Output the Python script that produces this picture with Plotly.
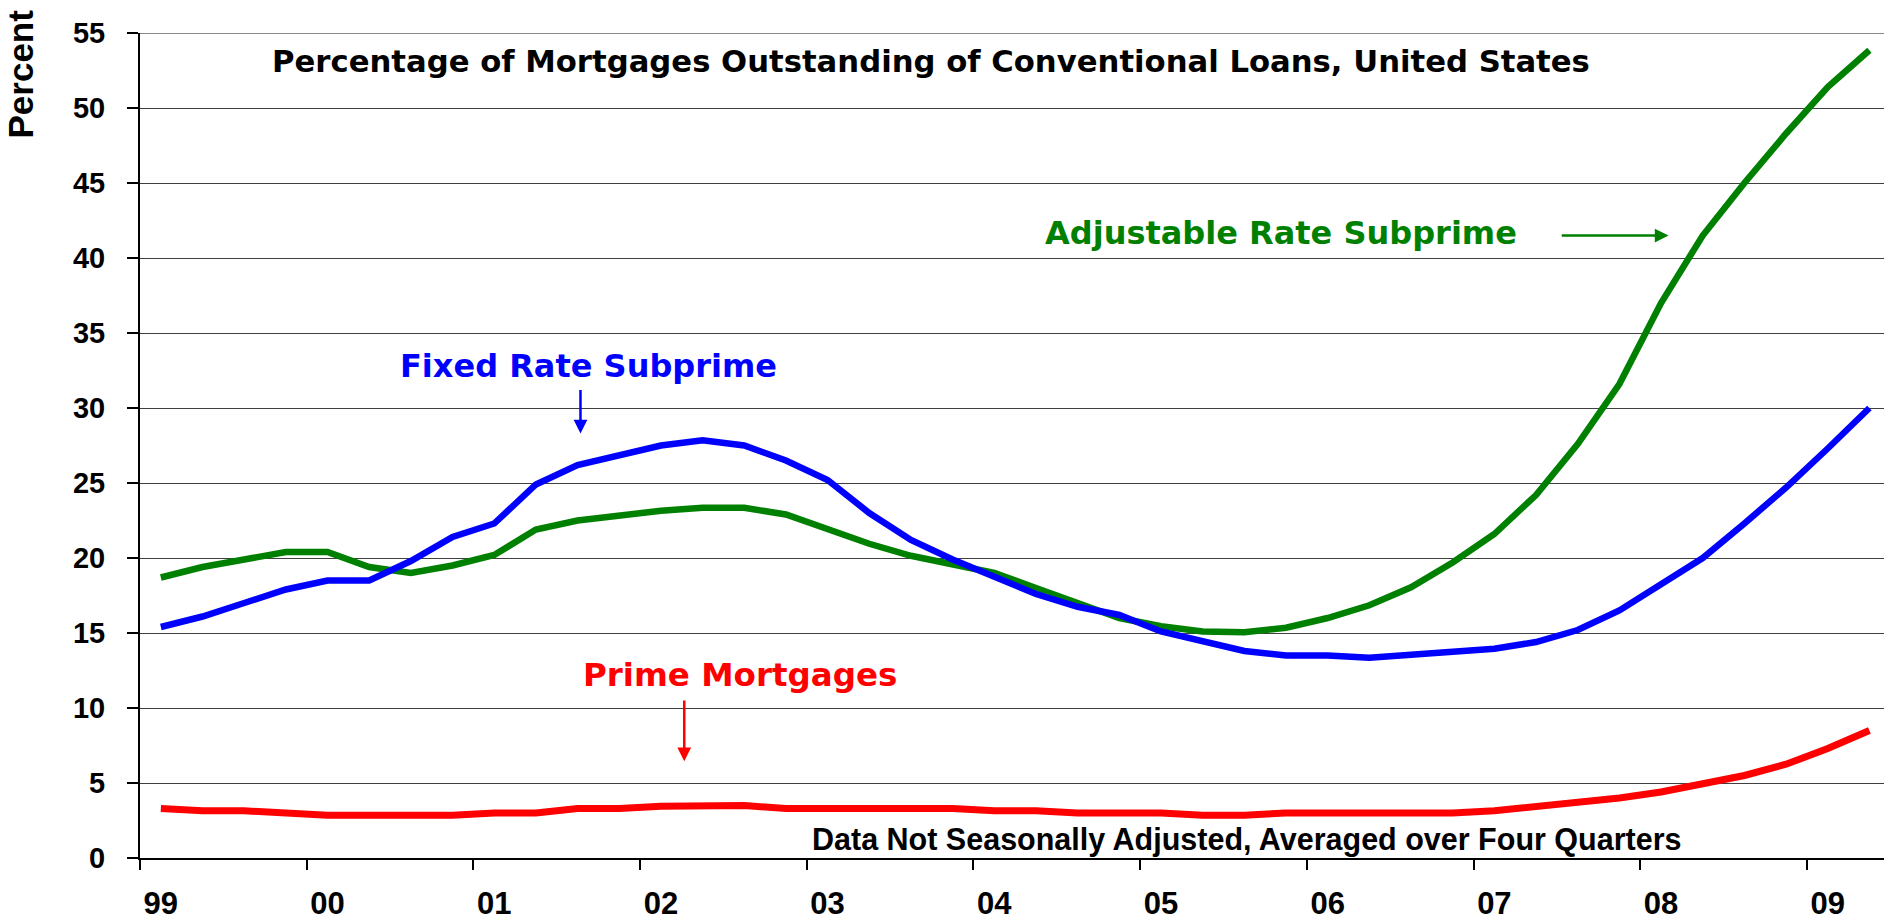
import plotly.graph_objects as go

# Quarterly observations, 1999Q1 through 2009Q2
quarters = [f"{y}Q{q}" for y in range(1999, 2010) for q in range(1, 5)][:42]

fixed_rate_subprime = [
    15.4, 16.1, 17.0, 17.9, 18.5, 18.5, 19.8, 21.4, 22.3, 24.9, 26.2, 26.85,
    27.5, 27.85, 27.5, 26.5, 25.2, 23.0, 21.2, 19.9, 18.8, 17.6, 16.75, 16.2,
    15.1, 14.5, 13.8, 13.5, 13.5, 13.35, 13.55, 13.75, 13.95, 14.4, 15.2, 16.5,
    18.2, 20.0, 22.3, 24.7, 27.3, 30.0,
]
adjustable_rate_subprime = [
    18.7, 19.4, 19.9, 20.4, 20.4, 19.4, 19.0, 19.5, 20.2, 21.9, 22.5, 22.85,
    23.15, 23.35, 23.35, 22.9, 21.95, 20.95, 20.15, 19.6, 19.0, 18.0, 17.0, 16.0,
    15.45, 15.1, 15.05, 15.35, 16.0, 16.85, 18.05, 19.7, 21.6, 24.2, 27.6, 31.6,
    37.0, 41.5, 45.0, 48.3, 51.4, 53.85,
]
prime_mortgages = [
    3.3, 3.15, 3.15, 3.0, 2.85, 2.85, 2.85, 2.85, 3.0, 3.0, 3.3, 3.3,
    3.45, 3.5, 3.5, 3.3, 3.3, 3.3, 3.3, 3.3, 3.15, 3.15, 3.0, 3.0,
    3.0, 2.85, 2.85, 3.0, 3.0, 3.0, 3.0, 3.0, 3.15, 3.4, 3.7, 4.0,
    4.4, 4.9, 5.5, 6.25, 7.3, 8.5,
]
year_labels = ["99", "00", "01", "02", "03", "04", "05", "06", "07", "08", "09"]
y_ticks = list(range(0, 60, 5))

idx = list(range(len(quarters)))
FONT = "Liberation Sans, Arial, sans-serif"
WIDE = "DejaVu Sans, sans-serif"

fig = go.Figure()
series = [
    ("Adjustable Rate Subprime", adjustable_rate_subprime, "#008000", 6.5),
    ("Fixed Rate Subprime", fixed_rate_subprime, "#0000FF", 6.5),
    ("Prime Mortgages", prime_mortgages, "#FF0000", 7),
]
for name, vals, color, width in series:
    fig.add_trace(go.Scatter(
        x=idx, y=vals, mode="lines", name=name,
        line=dict(color=color, width=width),
        customdata=quarters,
        hovertemplate="%{customdata}: %{y:.1f}%<extra>" + name + "</extra>",
    ))

def label(text, x, y, color, size, family=WIDE):
    fig.add_annotation(
        x=x, y=y, xref="x", yref="y", text=text, showarrow=False,
        font=dict(family=family, size=size, color=color, weight="bold"),
        xanchor="center", yanchor="middle",
    )

def arrow(x0, y0, x1, y1, color, width):
    fig.add_annotation(
        x=x1, y=y1, ax=x0, ay=y0, xref="x", yref="y", axref="x", ayref="y",
        text="", showarrow=True, arrowhead=2, arrowsize=1.1,
        arrowwidth=width, arrowcolor=color,
    )

label("Percentage of Mortgages Outstanding of Conventional Loans, United States",
      18.49, 53.1, "black", 30.7)
label("Adjustable Rate Subprime", 26.87, 41.7, "#008000", 32)
label("Fixed Rate Subprime", 10.26, 32.8, "#0000FF", 32)
label("Prime Mortgages", 13.9, 12.2, "#FF0000", 32.5)
label("Data Not Seasonally Adjusted, Averaged over Four Quarters",
      26.06, 1.25, "black", 30.5, family=FONT)

arrow(33.58, 41.5, 36.18, 41.5, "#008000", 2.5)
arrow(10.07, 31.3, 10.07, 28.3, "#0000FF", 2.5)
arrow(12.56, 10.6, 12.56, 6.45, "#FF0000", 2.5)

# top border of the plot area
fig.add_shape(type="line", xref="paper", yref="y", x0=0, x1=1, y0=55, y1=55,
              line=dict(color="#888888", width=2))

fig.update_layout(
    width=1884, height=923,
    margin=dict(l=140, r=0, t=33, b=65),
    paper_bgcolor="white", plot_bgcolor="white",
    showlegend=False,
    font=dict(family=FONT, color="black"),
    xaxis=dict(
        range=[-0.5, 41.35],
        automargin=False,
        tickmode="array",
        tickvals=idx[::4],
        ticktext=year_labels,
        ticks="",
        showgrid=False, zeroline=False,
        showline=True, linecolor="black", linewidth=2,
        tickfont=dict(family=FONT, size=31, color="black", weight="bold"),
        ticklabelstandoff=17,
        minor=dict(
            tickmode="array",
            tickvals=[i - 0.5 for i in idx[::4]],
            ticks="outside", ticklen=10, tickwidth=1.5, tickcolor="black",
            showgrid=False,
        ),
    ),
    yaxis=dict(
        range=[0, 55],
        automargin=False,
        tickmode="array", tickvals=y_ticks,
        ticks="outside", ticklen=11, tickwidth=1.5, tickcolor="black",
        showgrid=True, gridcolor="#404040", gridwidth=1,
        zeroline=False,
        showline=True, linecolor="black", linewidth=2,
        tickfont=dict(family=FONT, size=29, color="black", weight="bold"),
        ticklabelstandoff=16,
    ),
)

# axis title sits at the top of the axis rather than centred
fig.add_annotation(
    x=0, y=1, xref="paper", yref="paper", text="Percent", showarrow=False,
    textangle=-90, xanchor="center", yanchor="top", xshift=-120, yshift=25,
    font=dict(family=FONT, size=35, color="black", weight="bold"),
)

fig.write_html("out.html")
